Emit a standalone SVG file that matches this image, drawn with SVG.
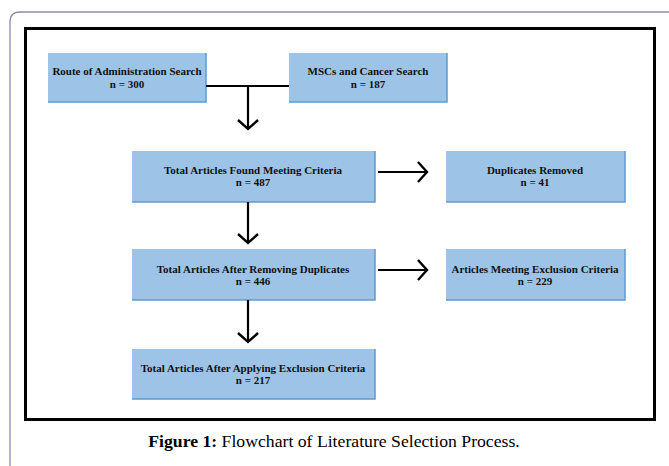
<svg xmlns="http://www.w3.org/2000/svg" width="669" height="466" viewBox="0 0 669 466">
<defs>
<style>
.box{fill:#9dc3e6;stroke:none}
.edge{fill:none;stroke:#5b9bd5;stroke-width:1.5}
.t{font-family:'Liberation Serif','Times New Roman',serif;font-weight:bold;font-size:11px;fill:#111;text-anchor:middle}
.c{fill:none;stroke:#000;stroke-width:2.2}
.cap{font-family:'Liberation Serif','Times New Roman',serif;font-size:17.7px;fill:#000;text-anchor:middle}
</style>
<marker id="chev" markerUnits="userSpaceOnUse" markerWidth="24" markerHeight="24" viewBox="-12 -12 24 24" refX="0" refY="0" orient="auto">
<path d="M-9,-10 L0,0 L-9,10" fill="none" stroke="#000" stroke-width="2.4"/>
</marker>
</defs>
<rect x="0" y="0" width="669" height="466" fill="#fff"/>
<path d="M10,470 L10,22 Q10,12 20,12 L680,12" fill="none" stroke="#8f8aa8" stroke-width="1.3"/>
<rect x="25.5" y="28.5" width="629" height="391" fill="#fff" stroke="#000" stroke-width="3"/>

<g id="n1">
<rect class="box" x="48" y="53" width="158" height="49"/>
<path class="edge" d="M206,53 V102 H48"/>
<text class="t" x="127" y="75">Route of Administration Search</text>
<text class="t" x="127" y="88">n = 300</text>
</g>
<g id="n2">
<rect class="box" x="289" y="53" width="158" height="49"/>
<path class="edge" d="M447,53 V102 H289"/>
<text class="t" x="368" y="75">MSCs and Cancer Search</text>
<text class="t" x="368" y="88">n = 187</text>
</g>
<g id="n3">
<rect class="box" x="132" y="151" width="243" height="51"/>
<path class="edge" d="M375,151 V202 H132"/>
<text class="t" x="253" y="174">Total Articles Found Meeting Criteria</text>
<text class="t" x="253" y="186">n = 487</text>
</g>
<g id="n4">
<rect class="box" x="446" y="151" width="179" height="51"/>
<path class="edge" d="M625,151 V202 H446"/>
<text class="t" x="535" y="174">Duplicates Removed</text>
<text class="t" x="535" y="186">n = 41</text>
</g>
<g id="n5">
<rect class="box" x="132" y="249" width="243" height="51"/>
<path class="edge" d="M375,249 V300 H132"/>
<text class="t" x="253" y="273">Total Articles After Removing Duplicates</text>
<text class="t" x="253" y="285">n = 446</text>
</g>
<g id="n6">
<rect class="box" x="446" y="249" width="179" height="51"/>
<path class="edge" d="M625,249 V300 H446"/>
<text class="t" x="535" y="273">Articles Meeting Exclusion Criteria</text>
<text class="t" x="535" y="285">n = 229</text>
</g>
<g id="n7">
<rect class="box" x="132" y="349" width="243" height="50"/>
<path class="edge" d="M375,349 V399 H132"/>
<text class="t" x="253" y="372">Total Articles After Applying Exclusion Criteria</text>
<text class="t" x="253" y="384">n = 217</text>
</g>

<g id="connectors">
<path class="c" d="M206,86 H289"/>
<path class="c" d="M248,86 V129" marker-end="url(#chev)"/>
<path class="c" d="M378,172 H427" marker-end="url(#chev)"/>
<path class="c" d="M248,202 V243" marker-end="url(#chev)"/>
<path class="c" d="M378,270 H427" marker-end="url(#chev)"/>
<path class="c" d="M248,300 V342" marker-end="url(#chev)"/>
</g>

<text class="cap" x="334" y="447"><tspan font-weight="bold">Figure 1:</tspan> Flowchart of Literature Selection Process.</text>
</svg>
